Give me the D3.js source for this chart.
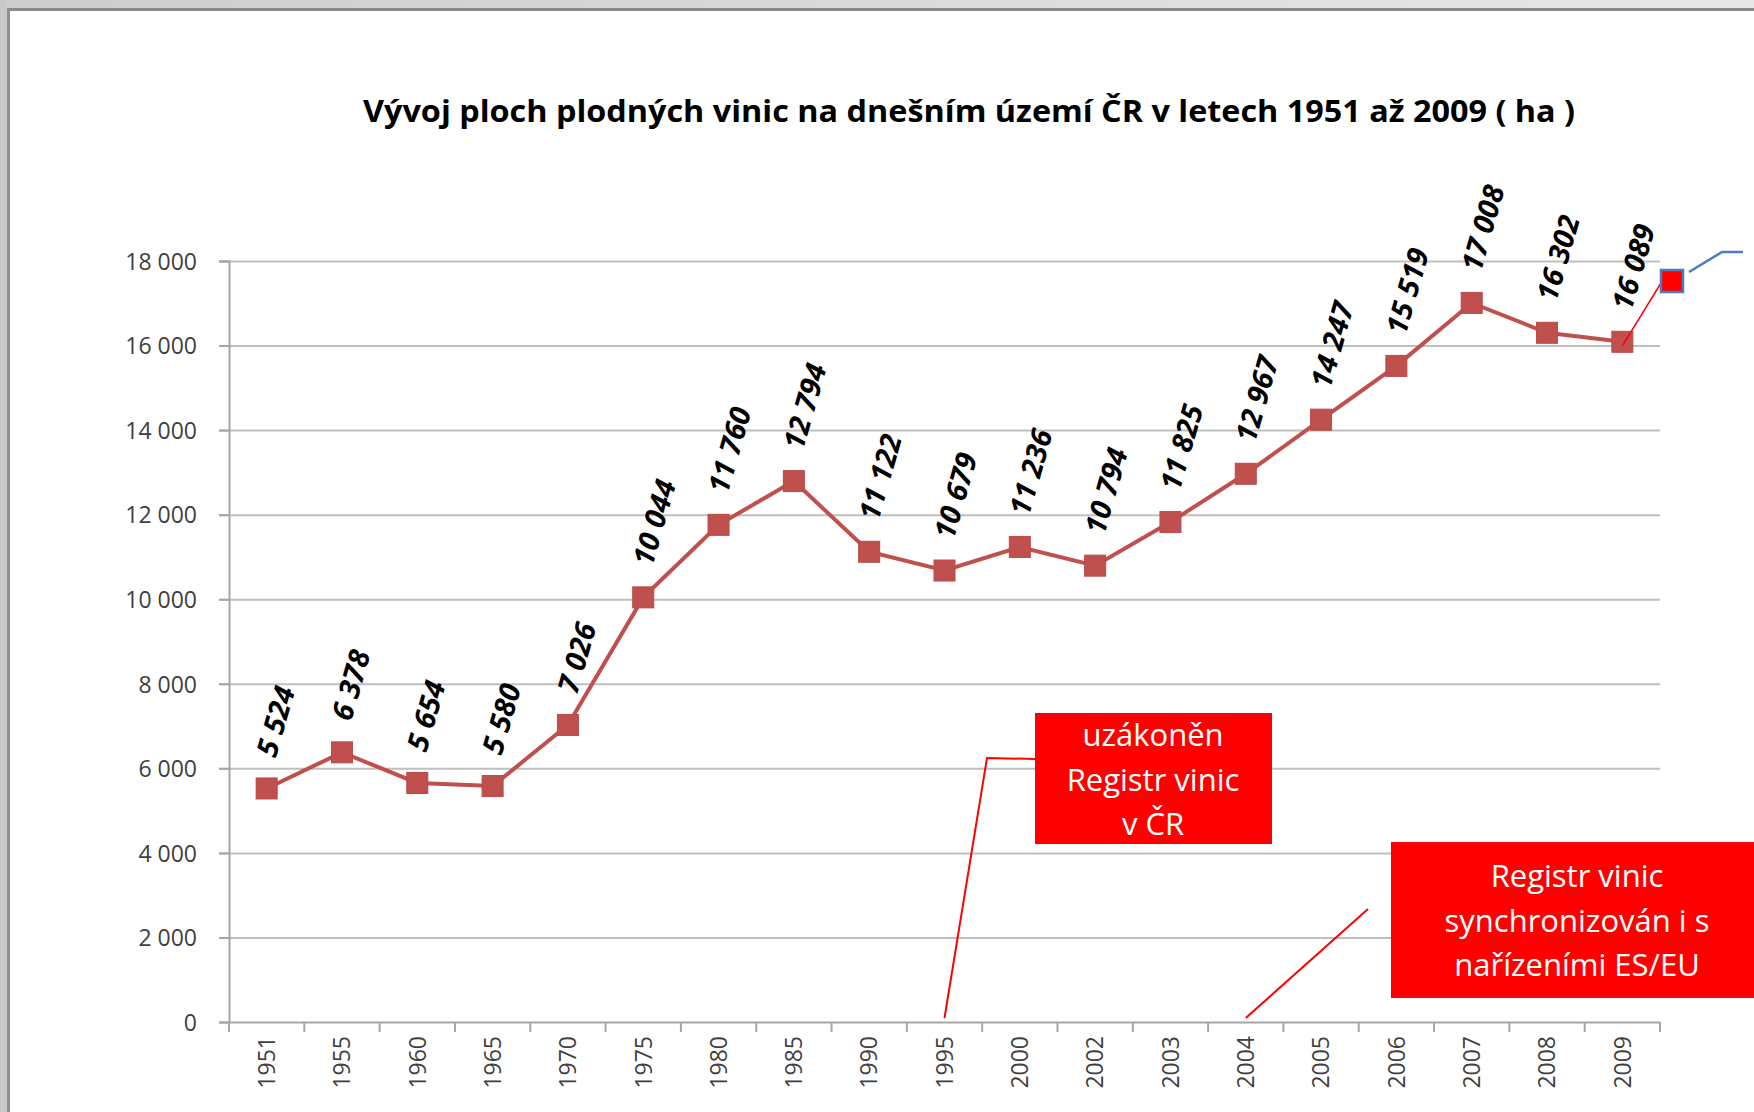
<!DOCTYPE html>
<html>
<head>
<meta charset="utf-8">
<script src="https://cdn.jsdelivr.net/npm/d3@7"></script>
<style>
  body { margin: 0; background: #fff; }
  .axis text { font-family: "Open Sans", sans-serif; font-size: 23px; fill: #404040; }
  .axis path, .axis line { stroke: #a6a6a6; stroke-width: 2px; }
  .grid line { stroke: #bfbfbf; stroke-width: 2px; }
  .grid path { display: none; }
</style>
</head>
<body>
<div id="chart"></div>
<script>
// data
var years = ["1951", "1955", "1960", "1965", "1970", "1975", "1980", "1985", "1990", "1995",
    "2000", "2002", "2003", "2004", "2005", "2006", "2007", "2008", "2009"];
var area = [5524, 6378, 5654, 5580, 7026, 10044, 11760, 12794, 11122, 10679,
    11236, 10794, 11825, 12967, 14247, 15519, 17008, 16302, 16089];
var yTicks = [0, 2000, 4000, 6000, 8000, 10000, 12000, 14000, 16000, 18000];
var title = "Vývoj ploch plodných vinic na dnešním území ČR v letech 1951 až 2009 ( ha )";
var note1 = { year: "1995", lines: ["uzákoněn", "Registr vinic", "v ČR"] };
var note2 = { year: "2004", lines: ["Registr vinic", "synchronizován i s", "nařízeními ES/EU"] };

var W = 1754, H = 1112;
var margin = { top: 261, left: 229, right: 94, bottom: 90 };

var svg = d3.select("#chart")
    .append("svg")
    .attr("width", W)
    .attr("height", H);

// slide frame
var defs = svg.append("defs");
var grad = defs.append("linearGradient").attr("id", "topband");
grad.append("stop").attr("offset", "0%").attr("stop-color", "#cccccc");
grad.append("stop").attr("offset", "100%").attr("stop-color", "#e8e8e8");
svg.append("rect").attr("x", 0).attr("y", 0).attr("width", W).attr("height", H).attr("fill", "#fff");
svg.append("rect").attr("x", 0).attr("y", 0).attr("width", W).attr("height", 8).attr("fill", "url(#topband)");
svg.append("rect").attr("x", 0).attr("y", 8).attr("width", W).attr("height", 3).attr("fill", "#8a8a8a");
svg.append("rect").attr("x", 0).attr("y", 0).attr("width", 7).attr("height", H).attr("fill", "#c8c8c8");
svg.append("rect").attr("x", 7).attr("y", 8).attr("width", 3).attr("height", H).attr("fill", "#8f8f8f");

var fmt = d3.formatLocale({ decimal: ",", thousands: " ", grouping: [3], currency: ["", ""] }).format(",d");

/*********************
 * SCALES
*********************/
var x = d3.scaleBand()
    .domain(years)
    .range([margin.left, W - margin.right]);

var y = d3.scaleLinear()
    .domain([0, 18000])
    .range([1022, margin.top]);

// horizontal gridlines
svg.append("g")
    .attr("class", "grid")
    .attr("transform", "translate(" + (margin.left - 10) + ",0)")
    .call(d3.axisRight(y)
        .tickValues(yTicks.slice(1))
        .tickSize(W - margin.right - margin.left + 10)
        .tickFormat(""));

// y axis
svg.append("g")
    .attr("class", "axis")
    .attr("transform", "translate(" + margin.left + ",0)")
    .call(d3.axisLeft(y)
        .tickValues(yTicks)
        .tickSize(10)
        .tickPadding(22)
        .tickFormat(fmt))
    .selectAll("text").attr("dy", "0.36em");

// x axis, ticks between categories
var xAxis = svg.append("g")
    .attr("class", "axis")
    .attr("transform", "translate(0," + y(0) + ")")
    .call(d3.axisBottom(x).tickSize(0).tickPadding(0));
xAxis.selectAll(".tick text")
    .attr("transform", "rotate(-90)")
    .attr("x", -14)
    .attr("y", 0)
    .attr("dy", "0.36em")
    .style("text-anchor", "end");
xAxis.selectAll(".sep")
    .data(years.concat(["end"]))
    .enter()
    .append("line")
    .attr("x1", function (d, i) { return margin.left + i * x.bandwidth(); })
    .attr("x2", function (d, i) { return margin.left + i * x.bandwidth(); })
    .attr("y1", 0)
    .attr("y2", 10);

/*********************
 * TITLE
*********************/
svg.append("text")
    .attr("x", 969)
    .attr("y", 122)
    .attr("text-anchor", "middle")
    .attr("textLength", 1212)
    .attr("lengthAdjust", "spacingAndGlyphs")
    .style("font-family", "'Open Sans', sans-serif")
    .style("font-weight", "bold")
    .style("font-size", "30px")
    .style("fill", "#000")
    .text(title);

/*********************
 * LINE + MARKERS
*********************/
var pts = years.map(function (d, i) { return { year: d, v: area[i] }; });
var cx = function (d) { return x(d.year) + x.bandwidth() / 2; };

svg.append("path")
    .datum(pts)
    .attr("fill", "none")
    .attr("stroke", "#c0504d")
    .attr("stroke-width", 4)
    .attr("d", d3.line().x(cx).y(function (d) { return y(d.v); }));

svg.selectAll(".marker")
    .data(pts)
    .enter()
    .append("rect")
    .attr("x", function (d) { return cx(d) - 10.5; })
    .attr("y", function (d) { return y(d.v) - 10.5; })
    .attr("width", 21)
    .attr("height", 21)
    .attr("fill", "#c0504d")
    .attr("stroke", "#b94a47")
    .attr("stroke-width", 1);

// data labels
svg.selectAll(".lbl")
    .data(pts)
    .enter()
    .append("text")
    .attr("transform", function (d) { return "translate(" + (cx(d) + 9) + "," + (y(d.v) - 30) + ") rotate(-74)"; })
    .style("font-family", "'Open Sans', sans-serif")
    .style("font-weight", "bold")
    .style("font-style", "italic")
    .style("font-size", "29px")
    .style("fill", "#000")
    .text(function (d) { return fmt(d.v); });

/*********************
 * ANNOTATIONS
*********************/
function callout(note, box, elbow) {
    var ax = x(note.year) + x.bandwidth() / 2, ay = y(0) - 4;
    var pts = [[ax, ay]].concat(elbow);
    svg.append("path")
        .attr("d", d3.line()(pts))
        .attr("fill", "none")
        .attr("stroke", "#ff0000")
        .attr("stroke-width", 2);
    svg.append("rect")
        .attr("x", box.x).attr("y", box.y)
        .attr("width", box.w).attr("height", box.h)
        .attr("fill", "#ff0000");
    svg.selectAll(null)
        .data(note.lines)
        .enter()
        .append("text")
        .attr("x", box.cx)
        .attr("y", function (d, i) { return box.ty + i * 44.5; })
        .attr("text-anchor", "middle")
        .style("font-family", "'Open Sans', sans-serif")
        .style("font-size", "31px")
        .style("fill", "#fff")
        .text(function (d) { return d; });
}

callout(note1, { x: 1035, y: 713, w: 237, h: 131, cx: 1153, ty: 746 }, [[987, 758], [1035, 759]]);
callout(note2, { x: 1391, y: 842, w: 380, h: 156, cx: 1577, ty: 887 }, [[1368, 909]]);

// small red legend box at the series end
var last = pts[pts.length - 1];
svg.append("line")
    .attr("x1", cx(last)).attr("y1", y(last.v) + 4)
    .attr("x2", 1661).attr("y2", 283)
    .attr("stroke", "#ff0000").attr("stroke-width", 1.5);
svg.append("rect")
    .attr("x", 1661).attr("y", 270).attr("width", 22).attr("height", 22)
    .attr("fill", "#ff0000").attr("stroke", "#4a7ebb").attr("stroke-width", 2.5);
svg.append("path")
    .attr("d", d3.line()([[1689, 272], [1722, 252], [1743, 252]]))
    .attr("fill", "none").attr("stroke", "#4a7ebb").attr("stroke-width", 2.5);
</script>
</body>
</html>
